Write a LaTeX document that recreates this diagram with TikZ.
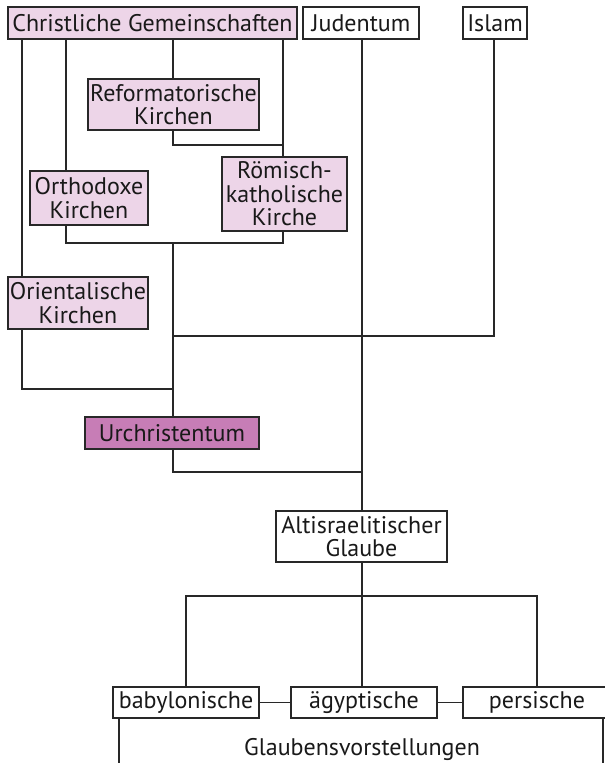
\documentclass[tikz,border=0pt]{standalone}
\usepackage{fontspec}
\setmainfont{PT Sans}
\definecolor{lightpink}{RGB}{237,213,232}
\definecolor{darkpink}{RGB}{199,125,182}
\definecolor{linecol}{RGB}{40,40,40}
\begin{document}
\begin{tikzpicture}[x=1pt,y=-1pt,
  box/.style={draw=linecol,line width=1.1pt,inner sep=0pt,align=center,
    font=\fontsize{24}{23.5}\selectfont,text=black!90},
  pinkbox/.style={box,fill=lightpink},
  urbox/.style={box,fill=darkpink},
  whitebox/.style={box,fill=white},
  conn/.style={draw=linecol,line width=1.1pt}]
\useasboundingbox (0,0) rectangle (605,763);
\clip (0,0) rectangle (605,763);
% nodes
\node[pinkbox,minimum width=289pt,minimum height=32pt] (cg) at (152.5,23) {Christliche Gemeinschaften};
\node[whitebox,minimum width=116pt,minimum height=32pt] (jud) at (361,23) {Judentum};
\node[whitebox,minimum width=64pt,minimum height=32pt] (isl) at (495,23) {Islam};
\node[pinkbox,minimum width=171pt,minimum height=51pt] (ref) at (173.5,104.5) {Reformatorische\\Kirchen};
\node[pinkbox,minimum width=125pt,minimum height=74pt] (rk) at (284.5,194) {Römisch-\\katholische\\Kirche};
\node[pinkbox,minimum width=118pt,minimum height=54pt] (orth) at (89,198) {Orthodoxe\\Kirchen};
\node[pinkbox,minimum width=140pt,minimum height=52pt] (orient) at (78,303) {Orientalische\\Kirchen};
\node[urbox,minimum width=174pt,minimum height=32pt] (ur) at (172,433) {Urchristentum};
\node[whitebox,minimum width=171pt,minimum height=51pt] (alt) at (361.5,536.5) {Altisraelitischer\\Glaube};
\node[whitebox,minimum width=146pt,minimum height=31pt] (bab) at (186,702.5) {babylonische};
\node[whitebox,minimum width=146pt,minimum height=31pt] (aeg) at (364,702.5) {ägyptische};
\node[whitebox,minimum width=148pt,minimum height=31pt] (per) at (537,702.5) {persische};
\node[font=\fontsize{24}{23.5}\selectfont,text=black!90,inner sep=0pt] (gv) at (362,749) {Glaubensvorstellungen};
% junction coordinates
\coordinate (j1) at (173,145);
\coordinate (j2) at (283,145);
\coordinate (j3) at (66,243);
\coordinate (j4) at (283,243);
\coordinate (j5) at (173,243);
\coordinate (j6) at (22,389);
\coordinate (j7) at (173,389);
\coordinate (j8) at (494,336);
\coordinate (j9) at (173,336);
\coordinate (j10) at (173,472);
\coordinate (j11) at (362,472);
\coordinate (j12) at (186,596);
\coordinate (j13) at (537,596);
\coordinate (e1) at (119,770);
\coordinate (e2) at (603,770);
% connectors
\draw[conn] (22,0 |- cg.south) -- (22,0 |- orient.north);
\draw[conn] (66,0 |- cg.south) -- (66,0 |- orth.north);
\draw[conn] (173,0 |- cg.south) -- (173,0 |- ref.north);
\draw[conn] (283,0 |- cg.south) -- (283,0 |- rk.north);
\draw[conn] (j1 |- ref.south) -- (j1) -- (j2);
\draw[conn] (j3 |- orth.south) -- (j3) -- (j4) -- (j4 |- rk.south);
\draw[conn] (j5) -- (j5 |- ur.north);
\draw[conn] (j6 |- orient.south) -- (j6) -- (j7);
\draw[conn] (j8 |- isl.south) -- (j8) -- (j9);
\draw[conn] (j10 |- ur.south) -- (j10) -- (j11);
\draw[conn] (362,0 |- jud.south) -- (362,0 |- alt.north);
\draw[conn] (362,0 |- alt.south) -- (362,0 |- aeg.north);
\draw[conn] (j12 |- bab.north) -- (j12) -- (j13) -- (j13 |- per.north);
\draw[conn] (bab.east) -- (aeg.west);
\draw[conn] (aeg.east) -- (per.west);
\draw[conn] (e1 |- bab.south) -- (e1);
\draw[conn] (e2 |- per.south) -- (e2);
\end{tikzpicture}
\end{document}
